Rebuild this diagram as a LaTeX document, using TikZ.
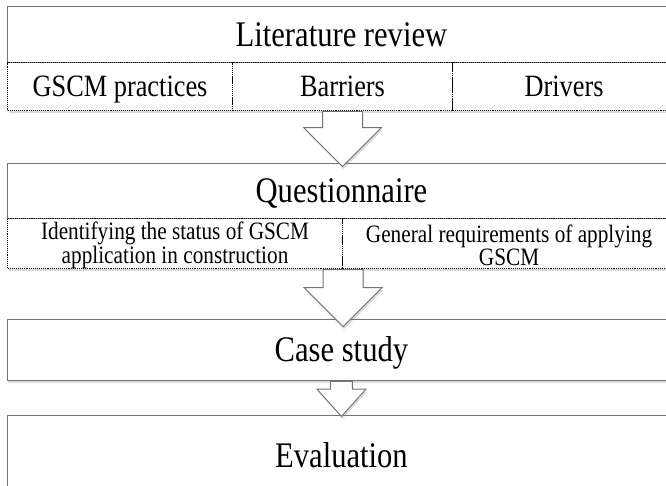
\documentclass[tikz,border=0pt]{standalone}
\usepackage{fontspec}
\setmainfont[FakeStretch=0.85]{Liberation Serif}
\usetikzlibrary{positioning,shapes.arrows,shadows}

\begin{document}
\begin{tikzpicture}[x=1pt,y=1pt,
  shade/.style={drop shadow={shadow xshift=1pt,shadow yshift=-2.5pt,opacity=0.3}},
  stage/.style={shape=rectangle,draw=gray!90!black,line width=0.9pt,fill=white,shade,minimum width=668,inner sep=0,anchor=north west,font=\fontsize{36}{40}\selectfont,text height=24pt,text depth=0pt},
  part/.style={shape=rectangle,draw=black,densely dotted,line width=1.1pt,fill=white,shade,minimum height=48,inner sep=0,anchor=north west},
  partL/.style={part,font=\fontsize{31}{34}\selectfont,text height=20.5pt,text depth=0pt},
  partS/.style={part,align=center,font=\fontsize{25}{21}\selectfont},
  blockarrow/.style={shape=single arrow,rotate=-90,anchor=tail,draw=gray!90!black,line width=0.9pt,fill=white,shade,inner xsep=0,single arrow tip angle=90}]
\def\xl{7};
\def\xa{232};
\def\xb{452};
\def\xm{342};
\def\xr{675};

\useasboundingbox (0,0) rectangle (666,-486);

\node[stage,minimum height=56] (lit) at (\xl,-6) {Literature review};
\node[partL,minimum width=\xa-\xl] (gscm) at (\xl,-62) {GSCM practices};
\node[partL,minimum width=\xb-\xa] (barr) at (\xa,-62) {Barriers};
\node[partL,minimum width=\xr-\xb] (driv) at (\xb,-62) {Drivers};

\node[stage,minimum height=55] (quest) at (\xl,-163) {Questionnaire};
\node[partS,minimum width=\xm-\xl,minimum height=50] (stat) at (\xl,-218) {\rule{0pt}{21pt}Identifying the status of GSCM\\application in construction};
\node[partS,minimum width=\xr-\xm,minimum height=50] (req) at (\xm,-218) {\rule{0pt}{21pt}General requirements of applying\\GSCM};

\node[stage,minimum height=61] (case) at (\xl,-319) {Case study};

\node[stage,minimum height=80] (eval) at (\xl,-415) {Evaluation};

\node[blockarrow,minimum height=55,inner ysep=19.5,single arrow head extend=19] (a1) at (barr.south) {};
\node[blockarrow,minimum height=57,inner ysep=19.5,single arrow head extend=19] (a2) at (stat.south east) {};
\node[blockarrow,minimum height=35,inner ysep=10.5,single arrow head extend=13.5,single arrow tip angle=84] (a3) at (case.south) {};
\end{tikzpicture}
\end{document}
